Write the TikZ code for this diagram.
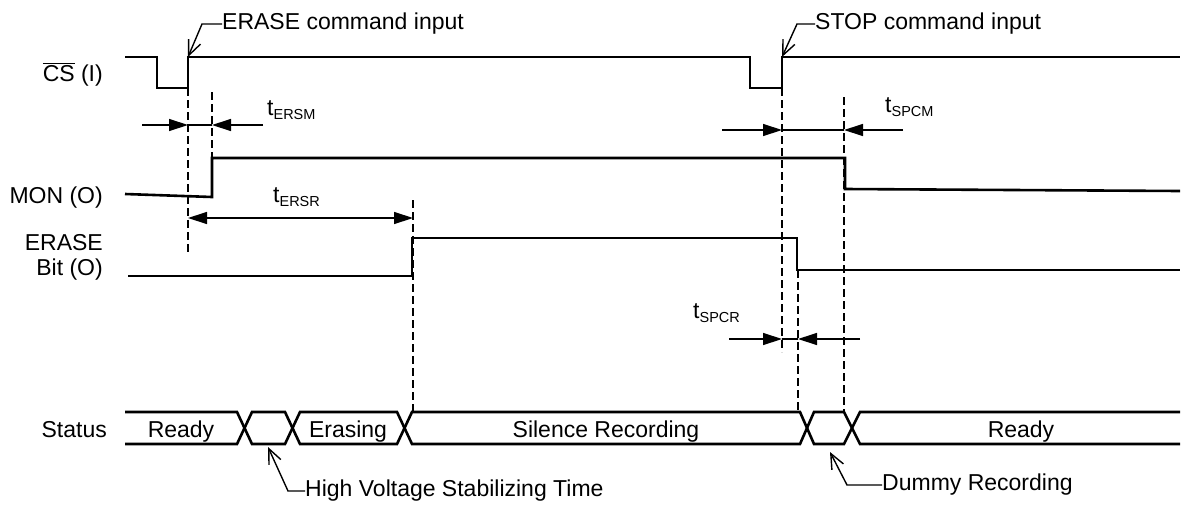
\documentclass[tikz,border=0pt]{standalone}
\usepackage{fontspec}
\setmainfont{Liberation Sans}
\usetikzlibrary{arrows.meta}
\begin{document}
\begin{tikzpicture}[x=1pt,y=-1pt,
  sig/.style={line width=2.6pt},
  dimline/.style={line width=1.3pt},
  dimarr/.style={line width=1.3pt,-{Triangle[length=19pt,width=12pt]}},
  dimboth/.style={line width=1.3pt,{Triangle[length=19pt,width=12pt]}-{Triangle[length=19pt,width=12pt]}},
  guide/.style={line width=1.5pt,dash pattern=on 8pt off 4pt},
  leader/.style={line width=1.4pt,-{Straight Barb[length=15pt,width=13pt,line width=1.4pt]}},
  lbl/.style={inner sep=0pt,font=\fontsize{23}{25}\selectfont},
  tlbl/.style={inner sep=0pt,anchor=base west,font=\fontsize{23}{25}\selectfont},
]
\useasboundingbox (0,0) rectangle (1182,509);
\newcommand{\tsub}[1]{t\raisebox{-4pt}{\fontsize{14.5}{15}\selectfont #1}}

% signal labels
\node[lbl,anchor=base east] (lcs) at (103,81) {$\overline{\hbox{CS}}$ (I)};
\node[lbl,anchor=base east] (lmon) at (103,203) {MON (O)};
\node[lbl,anchor=east,align=right] (lera) at (103,257) {ERASE\\Bit (O)};
\node[lbl,anchor=base east] (lst) at (107,437) {Status};

% CS waveform
\draw[sig] (125,57) -- (157,57) -- (157,88) -- (188,88) -- (188,57) -- (750,57) -- (750,88) -- (782,88) -- (782,57) -- (1180,57);
% MON waveform
\draw[sig] (125,194) -- (212,197) -- (212,158) -- (845,158) -- (845,189) -- (1180,191);
% ERASE bit waveform
\draw[sig] (128,276) -- (412,276) -- (412,238) -- (797,238) -- (797,270) -- (1180,270);

% Status bus
\draw[sig] (125,412) -- (237,412) -- (252,444) -- (285,444) -- (300,412) -- (397,412) -- (412,444) -- (800,444) -- (814,412) -- (844,412) -- (860,444) -- (1180,444);
\draw[sig] (125,444) -- (237,444) -- (252,412) -- (285,412) -- (300,444) -- (397,444) -- (412,412) -- (800,412) -- (814,444) -- (844,444) -- (860,412) -- (1180,412);
\node[lbl,anchor=base] (s1) at (181,437) {Ready};
\node[lbl,anchor=base] (s2) at (348,437) {Erasing};
\node[lbl,anchor=base] (s3) at (606,437) {Silence Recording};
\node[lbl,anchor=base] (s4) at (1021,437) {Ready};

% guide coordinates
\coordinate (g1a) at (188,88);  \coordinate (g1b) at (188,252);
\coordinate (g2a) at (212,92);  \coordinate (g2b) at (212,158);
\coordinate (g3a) at (413,200); \coordinate (g3b) at (413,412);
\coordinate (g4a) at (782,88);  \coordinate (g4b) at (782,352);
\coordinate (g5a) at (798,270); \coordinate (g5b) at (798,412);
\coordinate (g6a) at (844,97);  \coordinate (g6b) at (844,413);
\draw[guide] (g1a) -- (g1b);
\draw[guide] (g2a) -- (g2b);
\draw[guide] (g3a) -- (g3b);
\draw[guide] (g4a) -- (g4b);
\draw[guide] (g5a) -- (g5b);
\draw[guide] (g6a) -- (g6b);

% tERSM
\coordinate (ersmL) at (142,125); \coordinate (ersmA) at (188,125);
\coordinate (ersmB) at (212,125); \coordinate (ersmR) at (263,125);
\draw[dimarr] (ersmL) -- (ersmA);
\draw[dimarr] (ersmR) -- (ersmB);
\draw[dimline] (ersmA) -- (ersmB);
\node[tlbl] (tersm) at (267,115) {\tsub{ERSM}};

% tERSR
\coordinate (ersrA) at (188,218); \coordinate (ersrB) at (413,218);
\draw[dimboth] (ersrA) -- (ersrB);
\node[tlbl] (tersr) at (273,202) {\tsub{ERSR}};

% tSPCM
\coordinate (spcmL) at (722,130); \coordinate (spcmA) at (782,130);
\coordinate (spcmB) at (844,130); \coordinate (spcmR) at (903,130);
\draw[dimarr] (spcmL) -- (spcmA);
\draw[dimarr] (spcmR) -- (spcmB);
\draw[dimline] (spcmA) -- (spcmB);
\node[tlbl] (tspcm) at (885,112) {\tsub{SPCM}};

% tSPCR
\coordinate (spcrL) at (729,339); \coordinate (spcrA) at (782,339);
\coordinate (spcrB) at (798,339); \coordinate (spcrR) at (860,339);
\draw[dimarr] (spcrL) -- (spcrA);
\draw[dimarr] (spcrR) -- (spcrB);
\draw[dimline] (spcrA) -- (spcrB);
\node[tlbl] (tspcr) at (693,318) {\tsub{SPCR}};

% callouts
\node[lbl,anchor=west] (ecmd) at (222,24) {ERASE command input};
\coordinate (ek) at (202,24); \coordinate (et) at (188,57);
\draw[leader] (ecmd.west) -- (ek) -- (et);

\node[lbl,anchor=west] (scmd) at (815,24) {STOP command input};
\coordinate (sk) at (797,24); \coordinate (st) at (782,57);
\draw[leader] (scmd.west) -- (sk) -- (st);

\node[lbl,anchor=west] (hv) at (305,491) {High Voltage Stabilizing Time};
\coordinate (hk) at (288,491); \coordinate (ht) at (268,447);
\draw[leader] (hv.west) -- (hk) -- (ht);

\node[lbl,anchor=west] (dr) at (882,485) {Dummy Recording};
\coordinate (dk) at (847,485); \coordinate (dt) at (830,452);
\draw[leader] (dr.west) -- (dk) -- (dt);
\end{tikzpicture}
\end{document}
